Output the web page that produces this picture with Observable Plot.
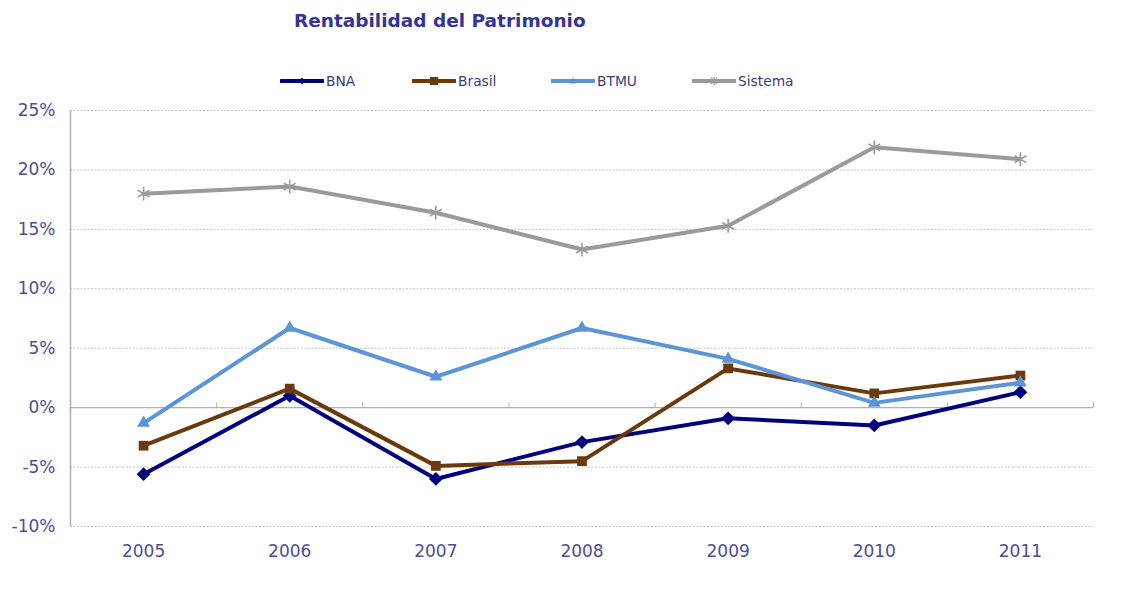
<!DOCTYPE html>
<html>
<head>
<meta charset="utf-8">
<script src="https://cdn.jsdelivr.net/npm/d3@7"></script>
<script src="https://cdn.jsdelivr.net/npm/@observablehq/plot@0.6"></script>
<style>
  html, body { margin: 0; padding: 0; background: #fff; }
  body { width: 1121px; height: 606px; overflow: hidden; font-family: "DejaVu Sans", Tahoma, sans-serif; }
  #title { position: relative; height: 50px; }
  #title span { position: absolute; left: 294px; top: 10px; font-weight: bold; font-size: 18.5px; color: #333399; white-space: nowrap; }
  #legend { position: relative; height: 50px; }
  .item { position: absolute; top: 21px; height: 20px; display: flex; align-items: center; font-size: 13.8px; color: #3b3b80; white-space: nowrap; }
  .item svg { margin-right: 2px; }
</style>
</head>
<body>
<div id="title"><span>Rentabilidad del Patrimonio</span></div>
<div id="legend"></div>
<div id="chart"></div>
<script>
const years = [2005, 2006, 2007, 2008, 2009, 2010, 2011];
const seriesNames = ["BNA", "Brasil", "BTMU", "Sistema"];
const bna =     [-5.6, 1.0, -6.0, -2.9, -0.9, -1.5, 1.3];
const brasil =  [-3.2, 1.6, -4.9, -4.5, 3.3, 1.2, 2.7];
const btmu =    [-1.3, 6.7, 2.6, 6.7, 4.1, 0.4, 2.1];
const sistema = [18.0, 18.6, 16.4, 13.3, 15.3, 21.9, 20.9];
const yTicks = [-10, -5, 0, 5, 10, 15, 20, 25];

const colors = ["#00007f", "#6b3a0c", "#5b95d8", "#9a9a9a"];
const symbols = ["diamond2", "square2", "triangle2", "asterisk"];
const values = [bna, brasil, btmu, sistema];

const rows = [];
seriesNames.forEach((s, i) => years.forEach((y, j) => rows.push({series: s, year: y, value: values[i][j]})));

// Legend
const legendX = [280, 412, 551, 692];
const legend = document.getElementById("legend");
seriesNames.forEach((s, i) => {
  const d = document.createElement("div");
  d.className = "item";
  d.style.left = legendX[i] + "px";
  let marker = "";
  const c = colors[i];
  if (i === 0) marker = `<path d="M22,6.5 L25,10 L22,13.5 L19,10 Z" fill="${c}"/>`;
  if (i === 1) marker = `<rect x="18" y="6" width="8" height="8" fill="${c}"/>`;
  if (i === 2) marker = `<path d="M22,6.5 L25,12.5 L19,12.5 Z" fill="${c}"/>`;
  if (i === 3) marker = `<path d="M19,7 L25,13 M25,7 L19,13 M22,6 L22,14" stroke="${c}" stroke-width="1.3"/>`;
  d.innerHTML = `<svg width="44" height="20"><line x1="1" x2="43" y1="10" y2="10" stroke="${c}" stroke-width="4" stroke-linecap="round"/>${marker}</svg><span>${s}</span>`;
  legend.appendChild(d);
});

const boundaries = years.slice(0, -1).map(y => y + 0.5).concat([2011.5]);

const chart = Plot.plot({
  width: 1121,
  height: 506,
  marginLeft: 70,
  marginRight: 28,
  marginTop: 10,
  marginBottom: 80,
  style: {fontFamily: "DejaVu Sans, Tahoma, sans-serif", fontSize: "16px", color: "#4d4d99", background: "#fff"},
  x: {domain: [2004.5, 2011.5], label: null},
  y: {domain: [-10, 25], label: null},
  color: {domain: seriesNames, range: colors},
  symbol: {domain: seriesNames, range: symbols},
  marks: [
    Plot.ruleY(yTicks.filter(d => d !== 0), {stroke: "#c4c4c4", strokeDasharray: "2,1.5", strokeWidth: 1, strokeOpacity: 1}),
    Plot.ruleY([0], {stroke: "#b0b0b0", strokeWidth: 1.2}),
    Plot.ruleX([2004.5], {stroke: "#b0b0b0", strokeWidth: 1.5}),
    Plot.ruleX(boundaries, {x: d => d, y1: 0, y2: 0.4, stroke: "#b0b0b0", strokeWidth: 1}),
    Plot.axisX({ticks: years, tickFormat: d => String(d), tickSize: 0, tickPadding: 18, fontSize: 17, fill: "#4d4d99"}),
    Plot.axisY({ticks: yTicks, tickFormat: d => d + "%", tickSize: 0, tickPadding: 15, fontSize: 17, fill: "#4d4d99"}),
    Plot.line(rows, {x: "year", y: "value", z: "series", stroke: "series", strokeWidth: 4, strokeLinejoin: "round"}),
    Plot.dot(rows.filter(d => d.series !== "Sistema"), {x: "year", y: "value", symbol: "series", fill: "series", r: 6.2}),
    Plot.dot(rows.filter(d => d.series === "Sistema"), {x: "year", y: "value", symbol: "series", stroke: "series", r: 6.5, strokeWidth: 1.6})
  ]
});
document.getElementById("chart").appendChild(chart);
</script>
</body>
</html>
